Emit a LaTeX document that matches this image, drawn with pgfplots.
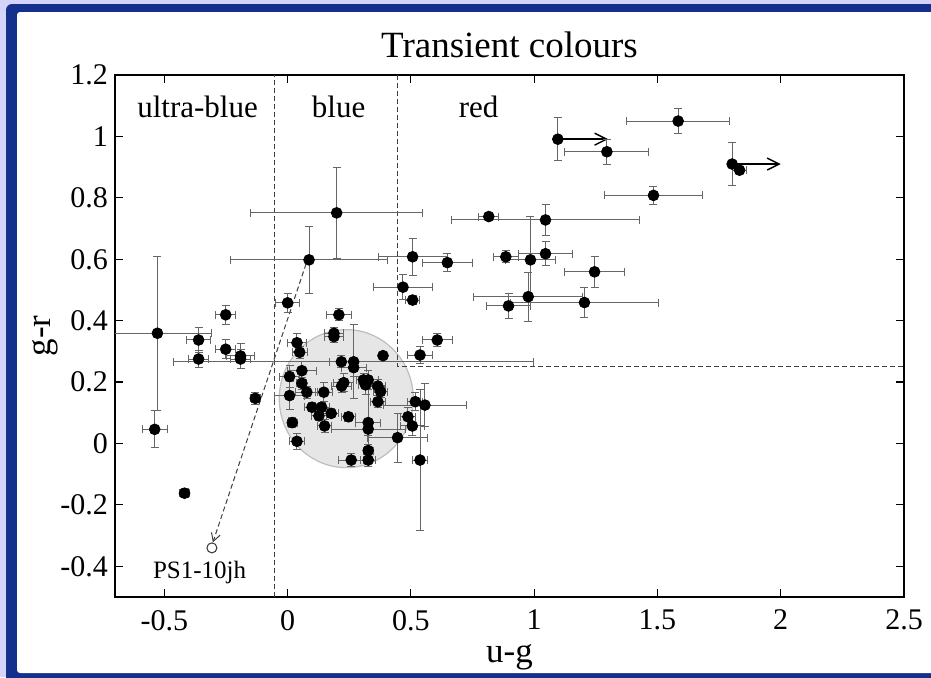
\documentclass[border=0pt]{standalone}
\usepackage{fontspec}
\setmainfont{Liberation Serif}
\usepackage{pgfplots}
\usepackage{pgfplotstable}
\pgfplotsset{compat=1.18}
\usetikzlibrary{arrows.meta}

\definecolor{framebg}{HTML}{D4D4FA}
\definecolor{frameblue}{HTML}{15308C}
\definecolor{blobfill}{HTML}{E6E6E6}
\definecolor{blobedge}{HTML}{BEBEBE}

% u-g, g-r colours with their uncertainties
\pgfplotstableread{
x y ex ey
1.096 0.991 0 0.07
1.295 0.950 0.17 0.04
1.584 1.050 0.21 0.04
1.803 0.910 0 0.07
1.833 0.890 0.03 0.01
1.484 0.808 0.20 0.03
1.046 0.728 0.38 0.05
0.816 0.739 0.04 0.01
1.046 0.618 0.11 0.04
0.985 0.598 0.10 0.14
0.885 0.608 0.05 0.02
1.245 0.559 0.12 0.05
0.976 0.478 0.22 0.08
1.204 0.459 0.30 0.05
0.896 0.448 0.09 0.04
0.507 0.608 0.14 0.06
0.648 0.589 0.10 0.03
0.468 0.509 0.12 0.04
0.507 0.467 0.03 0.015
0.607 0.337 0.06 0.02
0.537 0.288 0.05 0.027
0.199 0.751 0.35 0.147
0.087 0.598 0.32 0.11
-0.528 0.359 0.22 0.25
-0.539 0.046 0.05 0.06
-0.361 0.337 0.05 0.04
-0.361 0.275 0.04 0.027
-0.251 0.419 0.04 0.03
-0.251 0.307 0.04 0.03
-0.191 0.285 0.055 0.04
-0.191 0.275 0.04 0.03
-0.131 0.147 0.02 0.02
-0.418 -0.162 0.02 0.015
0.000 0.458 0.05 0.03
0.208 0.419 0.05 0.02
0.188 0.359 0.04 0.02
0.188 0.348 0.04 0.02
0.038 0.328 0.04 0.03
0.049 0.297 0.03 0.02
0.387 0.286 0.01 0.01
0.218 0.266 0.05 0.02
0.268 0.266 0.73 0.12
0.268 0.247 0.05 0.03
0.058 0.237 0.06 0.03
0.008 0.218 0.04 0.035
0.058 0.196 0.02 0.02
0.078 0.167 0.045 0.02
0.147 0.167 0.035 0.03
0.008 0.156 0.06 0.045
0.228 0.198 0.04 0.03
0.219 0.187 0.04 0.02
0.308 0.207 0.03 0.02
0.327 0.207 0.04 0.03
0.316 0.191 0.03 0.03
0.366 0.187 0.03 0.02
0.377 0.169 0.03 0.02
0.366 0.136 0.03 0.02
0.099 0.118 0.03 0.015
0.138 0.118 0.03 0.015
0.127 0.090 0.03 0.015
0.177 0.098 0.03 0.015
0.150 0.057 0.03 0.02
0.247 0.087 0.03 0.015
0.019 0.068 0.02 0.015
0.038 0.007 0.03 0.025
0.327 0.068 0.05 0.12
0.327 0.047 0.15 0.02
0.327 -0.023 0.02 0.02
0.327 -0.054 0.03 0.02
0.258 -0.054 0.05 0.02
0.446 0.019 0.12 0.08
0.488 0.087 0.03 0.03
0.506 0.057 0.05 0.03
0.518 0.136 0.03 0.03
0.557 0.125 0.17 0.07
0.537 -0.054 0.03 0.23
}\colours

\begin{document}
\begin{tikzpicture}
\useasboundingbox (0,0) rectangle (465.5pt,338.5pt);
\fill[framebg] (0,0) rectangle (465.5pt,338.5pt);
\begin{scope}
  \clip (0,0) rectangle (465.5pt,338.5pt);
  \fill[frameblue, rounded corners=3pt] (3pt,-10pt) rectangle (480pt,336.5pt);
  \fill[white, rounded corners=1.5pt] (8.5pt,2pt) rectangle (480pt,332.5pt);
\end{scope}
\begin{axis}[
  at={(57.5pt,40pt)}, anchor=south west,
  scale only axis, width=394.5pt, height=261pt,
  xmin=-0.7, xmax=2.5, ymin=-0.5, ymax=1.2,
  xtick={-0.5,0,0.5,1,1.5,2,2.5},
  ytick={-0.4,-0.2,0,0.2,0.4,0.6,0.8,1,1.2},
  /pgf/number format/assume math mode=true,
  tick label style={font=\fontsize{15}{17}\selectfont},
  xticklabel style={yshift=-3pt},
  axis line style={line width=0.8pt},
  major tick style={line width=0.6pt, black},
  major tick length=4pt,
  tick align=inside,
  title={Transient colours},
  title style={font=\fontsize{18.5}{21}\selectfont, at={(0.5,1)}, anchor=base, yshift=3pt},
  xlabel={u-g}, ylabel={g-r},
  label style={font=\fontsize{17.5}{20}\selectfont},
  xlabel style={at={(axis description cs:0.5,-0.115)}, anchor=center},
  ylabel style={at={(axis description cs:-0.0887,0.5)}, anchor=center},
]
% region of the bulk of the blue transients
\fill[blobfill, draw=blobedge, line width=0.6pt] (axis cs:0.238,0.146) ellipse [x radius=33.5pt, y radius=34.5pt];

% colour boundaries
\addplot[black!75, line width=0.5pt, dash pattern=on 2.5pt off 1.5pt] coordinates {(-0.053,-0.5) (-0.053,1.2)};
\addplot[black!75, line width=0.5pt, dash pattern=on 2.5pt off 1.5pt] coordinates {(0.447,1.2) (0.447,0.25) (2.5,0.25)};

% PS1-10jh track
\addplot[black!75, line width=0.5pt, dash pattern=on 2.5pt off 1.5pt, -{Straight Barb[length=4pt,width=4.5pt]}] coordinates {(0.075,0.585) (-0.303,-0.322)};
\addplot[only marks, mark=o, mark size=2.5pt, black!80, mark options={line width=0.5pt}] coordinates {(-0.307,-0.34)};

% lower limits in u-g
\addplot[black, line width=0.7pt, -{Straight Barb[length=6pt,width=6pt]}] coordinates {(1.096,0.991) (1.30,0.991)};
\addplot[black, line width=0.7pt, -{Straight Barb[length=6pt,width=6pt]}] coordinates {(1.803,0.910) (2.0,0.910)};

\addplot[only marks, mark=*, mark size=2.7pt, black,
  error bars/.cd, x dir=both, x explicit, y dir=both, y explicit,
  error bar style={black!60, line width=0.5pt},
  error mark options={rotate=90, black!60, mark size=2pt, line width=0.5pt}]
  table[x=x, y=y, x error=ex, y error=ey] {\colours};

\node[font=\fontsize{15.5}{18}\selectfont] at (axis cs:-0.365,1.095) {ultra-blue};
\node[font=\fontsize{15.5}{18}\selectfont] at (axis cs:0.207,1.095) {blue};
\node[font=\fontsize{15.5}{18}\selectfont] at (axis cs:0.775,1.095) {red};
\node[font=\fontsize{12.5}{15}\selectfont] at (axis cs:-0.357,-0.42) {PS1-10jh};
\end{axis}
\end{tikzpicture}
\end{document}
